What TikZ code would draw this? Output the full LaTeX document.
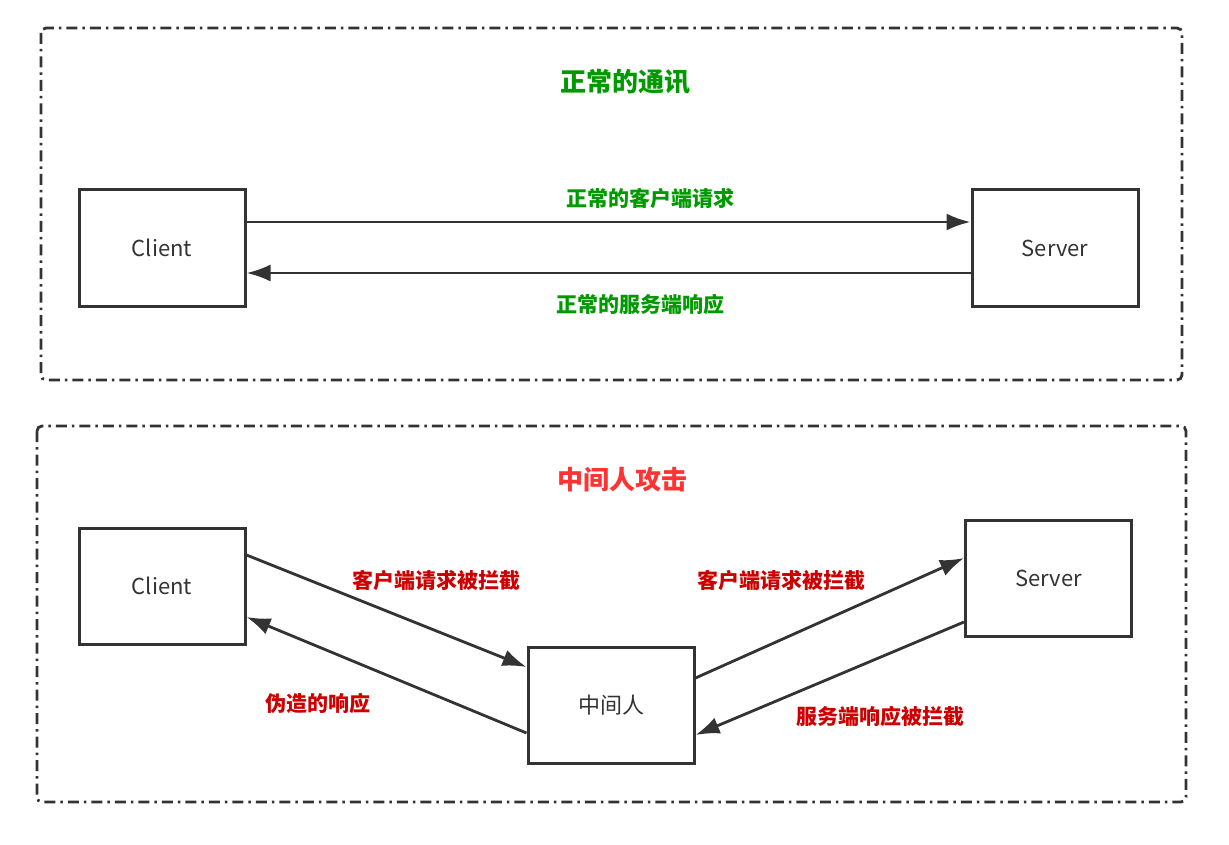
\documentclass[tikz,border=0pt]{standalone}
\usepackage{fontspec}
\newfontfamily\cjk{Noto Sans CJK SC}
\usepackage{xcolor}
\usepackage{tikz}
\usetikzlibrary{arrows.meta,positioning,calc}

\definecolor{okgreen}{HTML}{009900}
\definecolor{badred}{HTML}{CC0000}
\definecolor{titlered}{HTML}{FF3333}
\definecolor{linegray}{HTML}{333333}

\begin{document}
\begin{tikzpicture}[
x=1pt, y=-1pt,
>={Latex[length=24pt,width=17pt]},
box-node/.style = {rectangle,draw=linegray,line width=3pt,minimum width=166pt,minimum height=116pt,inner sep=0pt,font=\cjk\fontsize{22}{26}\selectfont,text=linegray},
frame-line/.style = {draw=linegray,line width=2.8pt,rounded corners=5pt,dash pattern=on 11pt off 5pt on 2.5pt off 5pt},
flow/.style = {->,draw=linegray,line width=2.8pt},
title-node/.style = {font=\cjk\bfseries\fontsize{26}{30}\selectfont},
label-node/.style = {font=\cjk\bfseries\fontsize{21}{24}\selectfont}
]
\useasboundingbox (0,0) rectangle (1229,845);

% frames
\draw [frame-line] (41,28) rectangle (1182,380);
\draw [frame-line] (37,426) rectangle (1186,802);

% normal communication
\node [title-node, text=okgreen] (title1) at (625,82) {正常的通讯};
\node [box-node] (client1) at (162,248) {Client};
\node [box-node] (server1) at (1055,248) {Server};
\node [label-node, text=okgreen] (req1) at (650,198) {正常的客户端请求};
\node [label-node, text=okgreen] (res1) at (640,304) {正常的服务端响应};

\draw [flow] ([yshift=26pt]client1.east) -- ([yshift=26pt]server1.west);
\draw [flow] ([yshift=-25pt]server1.west) -- ([yshift=-25pt]client1.east);

% man in the middle
\node [title-node, text=titlered] (title2) at (622,480) {中间人攻击};
\node [box-node] (client2) at (162,586) {Client};
\node [box-node] (server2) at (1048.5,578.5) {Server};
\node [box-node] (mitm) at (611,705) {中间人};

\node [label-node, text=badred] (req2) at (436,580) {客户端请求被拦截};
\node [label-node, text=badred] (fake) at (318,703) {伪造的响应};
\node [label-node, text=badred] (req3) at (781,580) {客户端请求被拦截};
\node [label-node, text=badred] (res2) at (880,716) {服务端响应被拦截};

\draw [flow] ([yshift=31pt]client2.east) -- ([yshift=38pt]mitm.west);
\draw [flow] ([yshift=-28pt]mitm.west) -- ([yshift=-31pt]client2.east);
\draw [flow] ([yshift=27pt]mitm.east) -- ([yshift=20.5pt]server2.west);
\draw [flow] ([yshift=-43.5pt]server2.west) -- ([yshift=-30pt]mitm.east);

\end{tikzpicture}
\end{document}
